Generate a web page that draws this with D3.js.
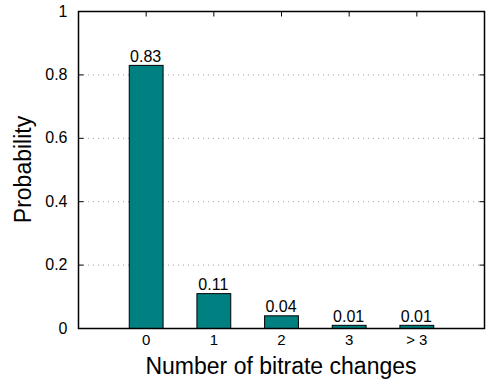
<!DOCTYPE html>
<html>
<head>
<meta charset="UTF-8">
<script src="https://d3js.org/d3.v7.min.js"></script>
<style>
  body { margin: 0; background: #fff; }
  svg { display: block; font-family: "Liberation Sans", Arial, sans-serif; }
</style>
</head>
<body>
<svg id="chart" width="488" height="381"></svg>
<script>
const categories = ["0", "1", "2", "3", "> 3"];
const probabilities = [0.83, 0.11, 0.04, 0.01, 0.01];
const valueLabels = ["0.83", "0.11", "0.04", "0.01", "0.01"];
const yTicks = [0, 0.2, 0.4, 0.6, 0.8, 1];

const svg = d3.select("#chart");
const margin = {left: 78, right: 4, top: 11, bottom: 53};
const width = 488, height = 381;

const x = d3.scaleLinear().domain([-1, 5]).range([margin.left, width - margin.right]);
const y = d3.scaleLinear().domain([0, 1]).range([height - margin.bottom, margin.top]);
const barW = x(0.5) - x(0);

// grid
svg.append("g")
  .selectAll("line")
  .data(yTicks.filter(d => d > 0 && d < 1))
  .enter().append("line")
  .attr("x1", x(-1)).attr("x2", x(5))
  .attr("y1", d => y(d) + 0.5).attr("y2", d => y(d) + 0.5)
  .attr("stroke", "#a0a0a0")
  .attr("stroke-width", 1)
  .attr("stroke-dasharray", "1,4");

// bars
svg.append("g")
  .selectAll("rect")
  .data(probabilities)
  .enter().append("rect")
  .attr("x", (d, i) => x(i) - barW / 2 + 0.5)
  .attr("y", d => y(d) + 0.5)
  .attr("width", barW)
  .attr("height", d => y(0) - y(d))
  .attr("fill", "#008080")
  .attr("stroke", "#000")
  .attr("stroke-width", 1);

// value labels
svg.append("g")
  .selectAll("text")
  .data(probabilities)
  .enter().append("text")
  .attr("x", (d, i) => x(i))
  .attr("y", d => y(d) - 3)
  .attr("text-anchor", "middle")
  .attr("font-size", 16)
  .text((d, i) => valueLabels[i]);

// axes
const yAxisL = d3.axisLeft(y).tickValues(yTicks).tickFormat(d3.format("~g")).tickSize(-5).tickPadding(11);
const yAxisR = d3.axisRight(y).tickValues(yTicks).tickFormat("").tickSize(-5);
const xAxisB = d3.axisBottom(x).tickValues(d3.range(categories.length)).tickFormat(i => categories[i]).tickSize(0).tickPadding(6);
const xAxisT = d3.axisTop(x).tickValues(d3.range(categories.length)).tickFormat("").tickSize(-5);

function style(size) {
  return g => {
    g.select(".domain").remove();
    g.selectAll("line").attr("stroke", "#000");
    g.selectAll("text").attr("font-size", size).attr("fill", "#000").attr("font-family", "Liberation Sans, Arial, sans-serif");
  };
}

svg.append("g").attr("transform", `translate(${margin.left + 0.5},0)`).call(yAxisL).call(style(16));
svg.append("g").attr("transform", `translate(${width - margin.right + 0.5},0)`).call(yAxisR).call(style(16));
svg.append("g").attr("transform", `translate(0,${y(0) + 0.5})`).call(xAxisB).call(style(15));
svg.append("g").attr("transform", `translate(0,${margin.top + 0.5})`).call(xAxisT).call(style(16));

// frame
svg.append("rect")
  .attr("x", margin.left + 0.5).attr("y", margin.top + 0.5)
  .attr("width", x(5) - x(-1)).attr("height", y(0) - y(1))
  .attr("fill", "none").attr("stroke", "#000").attr("stroke-width", 1.5);

// axis titles
svg.append("text")
  .attr("x", x(2)).attr("y", 374)
  .attr("text-anchor", "middle")
  .attr("font-size", 23)
  .text("Number of bitrate changes");

svg.append("text")
  .attr("transform", `translate(31,${(y(0) + y(1)) / 2}) rotate(-90)`)
  .attr("text-anchor", "middle")
  .attr("font-size", 23)
  .text("Probability");
</script>
</body>
</html>
